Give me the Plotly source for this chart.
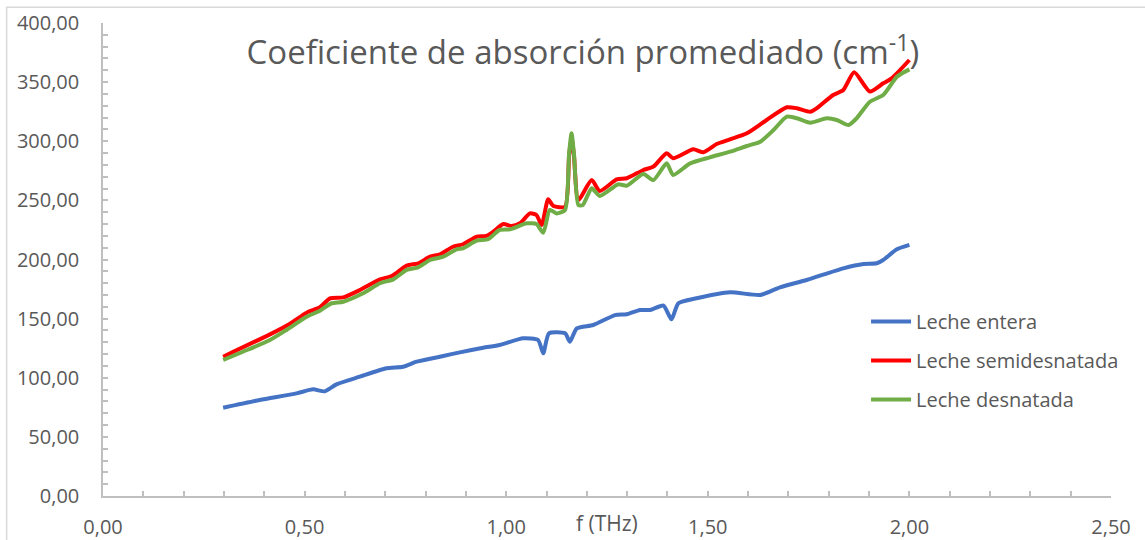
import plotly.graph_objects as go

# Leche entera (blue)
f_entera = [0.298, 0.389, 0.48, 0.521, 0.55, 0.579, 0.637, 0.703, 0.744, 0.778, 0.844, 0.885,
            0.943, 0.984, 1.042, 1.079, 1.092, 1.106, 1.146, 1.158, 1.175, 1.216, 1.27, 1.299,
            1.332, 1.357, 1.39, 1.41, 1.427, 1.472, 1.555, 1.63, 1.679, 1.745, 1.836, 1.886,
            1.919, 1.935, 1.969, 2.0]
v_entera = [74.7, 81.2, 86.8, 90.2, 88.5, 94.4, 100.9, 108.0, 109.3, 113.6, 118.4, 121.5,
            125.4, 127.7, 133.4, 131.9, 120.7, 137.6, 137.6, 130.5, 141.8, 144.6, 153.0, 153.7,
            157.3, 157.3, 161.0, 149.4, 163.0, 167.2, 172.3, 170.0, 176.5, 182.7, 192.5, 196.2,
            196.8, 199.6, 208.6, 212.3]

# Leche semidesnatada (red)
f_semi = [0.298, 0.414, 0.463, 0.505, 0.538, 0.563, 0.596, 0.637, 0.687, 0.716, 0.753, 0.782,
          0.811, 0.836, 0.868, 0.893, 0.927, 0.951, 0.968, 0.993, 1.013, 1.034, 1.059, 1.075,
          1.088, 1.104, 1.117, 1.146, 1.156, 1.162, 1.168, 1.179, 1.212, 1.232, 1.274, 1.299,
          1.34, 1.365, 1.398, 1.414, 1.464, 1.489, 1.522, 1.555, 1.597, 1.646, 1.696, 1.721,
          1.754, 1.77, 1.811, 1.836, 1.863, 1.902, 1.935, 1.956, 2.0]
v_semi = [117.8, 136.7, 145.5, 155.0, 159.6, 167.2, 168.0, 174.2, 183.2, 186.0, 194.8, 196.8,
          202.4, 204.4, 210.8, 212.9, 219.3, 219.9, 223.5, 230.0, 228.3, 230.6, 239.0, 237.6,
          229.2, 250.9, 245.2, 244.7, 288.0, 303.0, 288.0, 250.3, 267.2, 257.9, 267.8, 268.7,
          275.7, 278.5, 289.8, 285.6, 293.2, 290.7, 297.7, 301.6, 306.7, 318.0, 328.7, 327.9,
          325.0, 327.9, 339.1, 343.3, 358.3, 342.0, 349.0, 353.2, 368.7]

# Leche desnatada (green)
f_desn = [0.298, 0.347, 0.414, 0.455, 0.505, 0.538, 0.567, 0.596, 0.645, 0.687, 0.72, 0.753,
          0.782, 0.811, 0.844, 0.877, 0.893, 0.927, 0.955, 0.984, 1.009, 1.051, 1.075, 1.092,
          1.108, 1.125, 1.146, 1.156, 1.162, 1.168, 1.179, 1.19, 1.212, 1.232, 1.278, 1.299,
          1.34, 1.365, 1.398, 1.414, 1.456, 1.505, 1.555, 1.597, 1.63, 1.663, 1.696, 1.721,
          1.754, 1.795, 1.82, 1.849, 1.869, 1.902, 1.935, 1.969, 2.0]
v_desn = [115.0, 122.0, 131.9, 140.4, 151.6, 156.7, 163.0, 164.3, 171.4, 179.9, 183.2, 191.1,
          193.4, 199.6, 202.4, 208.6, 209.5, 215.9, 217.1, 225.0, 225.5, 230.6, 230.0, 222.7,
          241.9, 239.0, 241.9, 289.8, 306.7, 289.8, 246.0, 246.0, 260.2, 253.7, 263.6, 262.4,
          272.3, 267.2, 281.3, 271.5, 281.3, 286.4, 291.2, 296.0, 299.6, 309.5, 320.8, 319.4,
          315.7, 319.4, 318.0, 313.7, 319.4, 333.4, 339.1, 354.6, 360.8]

names = ["Leche entera", "Leche semidesnatada", "Leche desnatada"]
colors = ["#4472C4", "#FF0000", "#70AD47"]

TXT = "#595959"
AX = "#BFBFBF"
FONT = "Open Sans"
FS = 20

fig = go.Figure()
for fx, vy, nm, c in zip([f_entera, f_semi, f_desn], [v_entera, v_semi, v_desn], names, colors):
    fig.add_trace(go.Scatter(x=fx, y=vy, mode="lines", name=nm, legendgroup=nm,
                             line=dict(color=c, width=4, shape="spline", smoothing=0.6)))

fig.update_layout(
    width=1145, height=540,
    margin=dict(l=103, r=34, t=23, b=44),
    paper_bgcolor="white", plot_bgcolor="white",
    separators=",.",
    font=dict(family=FONT, color=TXT, size=FS),
    title=dict(text="Coeficiente de absorción promediado (cm<sup>-1</sup>)",
               x=0.509, xanchor="center", y=0.902, yanchor="middle",
               font=dict(family=FONT, size=33, color=TXT)),
    legend=dict(x=0.757, y=0.41, xanchor="left", yanchor="top",
                font=dict(family=FONT, size=FS, color=TXT),
                tracegroupgap=10, bgcolor="rgba(0,0,0,0)", itemwidth=40),
    showlegend=True,
)
fig.update_xaxes(range=[0, 2.5], dtick=0.5, tick0=0, tickformat=".2f", automargin=False,
                 showgrid=False, zeroline=False, showline=True, linecolor=AX, linewidth=1.5,
                 ticks="inside", ticklen=5, tickcolor=AX, tickwidth=1.5,
                 minor=dict(dtick=0.1, ticks="inside", ticklen=5, tickcolor=AX, tickwidth=1.5, showgrid=False),
                 ticklabelstandoff=12, tickfont=dict(size=FS, color=TXT))
fig.update_yaxes(range=[0, 400], dtick=50, tick0=0, tickformat=".2f", automargin=False,
                 showgrid=False, zeroline=False, showline=True, linecolor=AX, linewidth=1.5,
                 ticks="inside", ticklen=5, tickcolor=AX, tickwidth=1.5,
                 minor=dict(dtick=10, ticks="inside", ticklen=5, tickcolor=AX, tickwidth=1.5, showgrid=False),
                 ticklabelstandoff=18, tickfont=dict(size=FS, color=TXT))

fig.add_annotation(text="f (THz)", x=1.25, xref="x", y=0, yref="paper", yshift=-27,
                   xanchor="center", yanchor="middle", showarrow=False,
                   font=dict(family=FONT, size=21, color=TXT))

fig.add_shape(type="rect", xref="paper", yref="paper", x0=-0.0956, x1=1.06, y0=-0.12, y1=1.0332,
              line=dict(color="#D9D9D9", width=1.5), fillcolor="rgba(0,0,0,0)", layer="below")

fig.write_html("out.html")
